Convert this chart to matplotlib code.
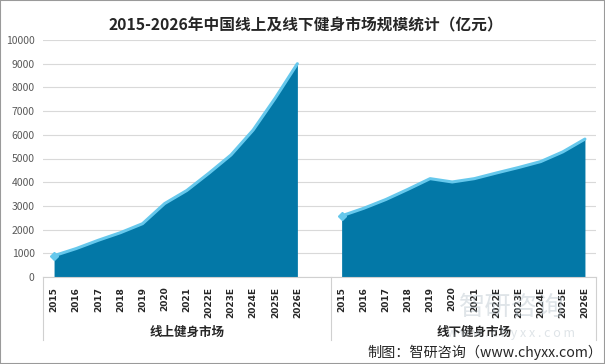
import matplotlib.pyplot as plt
import numpy as np
from matplotlib.lines import Line2D
from matplotlib.patches import Rectangle

plt.rcParams['font.family'] = ['Noto Sans CJK SC', 'DejaVu Sans']

years = ["2015", "2016", "2017", "2018", "2019", "2020", "2021",
         "2022E", "2023E", "2024E", "2025E", "2026E"]
online = [900, 1200, 1550, 1870, 2250, 3100, 3650, 4380, 5150, 6200, 7550, 9000]
offline = [2580, 2900, 3270, 3700, 4150, 4010, 4150, 4390, 4620, 4870, 5280, 5820]
groups = ["线上健身市场", "线下健身市场"]

title = "2015-2026年中国线上及线下健身市场规模统计（亿元）"
source = "制图：智研咨询（www.chyxx.com）"

fill_c = "#0378a7"
line_c = "#66c8ec"

fig = plt.figure(figsize=(6.05, 3.64), dpi=100)
ax = fig.add_axes([43/605, 1-277/364, (596-43)/605, (277-40)/364])

x1 = np.arange(len(years))
x2 = np.arange(len(years)) + len(years) + 1

for xs, ys in [(x1, online), (x2, offline)]:
    ax.fill_between(xs, 0, ys, color=fill_c, lw=0, zorder=2)
    ax.plot(xs, ys, color=line_c, lw=2.2, zorder=3,
            marker="D", markersize=4, markevery=[0], solid_capstyle="round")

ax.set_xlim(-0.5, 2*len(years) + 0.5)
ax.set_ylim(0, 10000)
ax.set_yticks(np.arange(0, 10001, 1000))
ax.grid(axis="y", color="#d9d9d9", lw=0.8, zorder=0)
ax.tick_params(axis="y", length=0, labelsize=7.5, labelcolor="#595959", pad=6)
for s in ["top", "right", "left"]:
    ax.spines[s].set_visible(False)
ax.spines["bottom"].set_color("#d0d0d0")

ax.set_xticks(list(x1) + list(x2))
ax.set_xticklabels(years + years, rotation=90, fontsize=6.5, fontweight="bold",
                   color="#262626", family=["DejaVu Sans"])
ax.tick_params(axis="x", length=0, pad=7)

# group dividers and labels below the axis
for xv in [-0.5, len(years) + 0.5, 2*len(years) + 0.5]:
    ax.add_line(Line2D([xv, xv], [0, -2650], color="#d0d0d0", lw=0.8,
                       clip_on=False, transform=ax.transData))
ax.text(len(years)/2, -2320, groups[0], ha="center", va="center",
        fontsize=9, fontweight="bold", color="#262626")
ax.text(len(years) + 1 + (len(years) - 1)/2 + 0.5, -2320, groups[1], ha="center",
        va="center", fontsize=9, fontweight="bold", color="#262626")

# watermark
fig.text(0.845, 0.155, "智研咨询", ha="center", va="center", fontsize=19,
         color="#b8c4cc", alpha=0.45)
fig.text(0.845, 0.085, "w w w . c h y x x . c o m", ha="center", va="center",
         fontsize=9, color="#b8c4cc", alpha=0.45)

fig.text(0.505, 0.93, title, ha="center", va="center", fontsize=11.3,
         fontweight="bold", color="#262626")
fig.text(0.995, 0.033, source, ha="right", va="center", fontsize=10.2,
         color="#262626")

fig.patches.append(Rectangle((0, 0), 1, 1, transform=fig.transFigure,
                             fill=False, edgecolor="#9a9a9a", lw=1.5))

fig.savefig("out.png", dpi=100)
